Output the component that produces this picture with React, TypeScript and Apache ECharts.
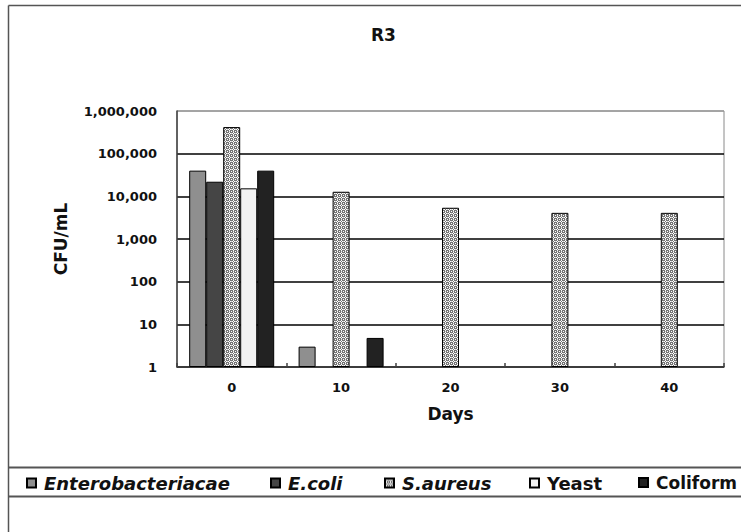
import React, { useEffect, useRef } from "react";
import * as echarts from "echarts";

const days = ["0", "10", "20", "30", "40"];
const seriesNames = ["Enterobacteriacae", "E.coli", "S.aureus", "Yeast", "Coliform"];
const enterobacteriaceae = [40000, 3, null, null, null];
const eColi = [22000, null, null, null, null];
const sAureus = [420000, 12800, 5400, 4100, 4100];
const yeast = [15400, null, null, null, null];
const coliform = [40000, 4.8, null, null, null];

function makePattern(): HTMLCanvasElement {
  const c = document.createElement("canvas");
  c.width = 4;
  c.height = 4;
  const ctx = c.getContext("2d")!;
  ctx.fillStyle = "#747474";
  ctx.fillRect(0, 0, 4, 4);
  ctx.fillStyle = "#ffffff";
  [[1, 0], [0, 1], [2, 1], [1, 2], [3, 3]].forEach(([x, y]) => ctx.fillRect(x, y, 1, 1));
  ctx.fillStyle = "#cfcfcf";
  [[3, 1], [1, 3]].forEach(([x, y]) => ctx.fillRect(x, y, 1, 1));
  return c;
}

export default function App() {
  const ref = useRef<HTMLDivElement>(null);
  useEffect(() => {
    if (!ref.current) return;
    const chart = echarts.init(ref.current, null, { renderer: "svg" });
    const pattern = makePattern();
    const colors: any[] = ["#8f8f8f", "#454545", { image: pattern, repeat: "repeat" }, "#f2f2f2", "#222222"];
    const values = [enterobacteriaceae, eColi, sAureus, yeast, coliform];
    const legendLefts = [21, 265, 379, 524, 633];
    const legendSizes = [18, 18, 18, 18, 17];
    const italic = [true, true, true, false, false];
    const font = "DejaVu Sans";
    chart.setOption({
      animation: false,
      backgroundColor: "#ffffff",
      title: {
        text: "R3",
        left: 366,
        top: 21,
        textStyle: { fontFamily: font, fontSize: 17, fontWeight: "bold", color: "#111" },
      },
      grid: {
        left: 177,
        right: 17,
        top: 111,
        bottom: 165,
        show: true,
        borderColor: "#8a8a8a",
        borderWidth: 1,
        backgroundColor: "#ffffff",
      },
      legend: seriesNames.map((n, i) => ({
        left: legendLefts[i],
        top: 469,
        itemWidth: 9,
        itemHeight: 9,
        selectedMode: false,
        icon: "rect",
        data: [n],
        formatter: (name: string) => `{t|${name}}`,
        textStyle: {
          fontFamily: font,
          fontSize: legendSizes[i],
          fontWeight: "bold",
          color: "#111",
          rich: {
            t: {
              fontFamily: font,
              fontSize: legendSizes[i],
              fontWeight: "bold",
              fontStyle: italic[i] ? "italic" : "normal",
              color: "#111",
              padding: [0, 0, 0, 3],
            },
          },
        },
      })),
      xAxis: {
        type: "category",
        data: days,
        name: "Days",
        nameLocation: "middle",
        nameGap: 38,
        nameTextStyle: { fontFamily: font, fontSize: 17, fontWeight: "bold", color: "#111" },
        axisLine: { show: true, lineStyle: { color: "#404040", width: 1.5 } },
        axisTick: { show: true, inside: true, length: 4, lineStyle: { color: "#404040", width: 1.5 } },
        axisLabel: { fontFamily: font, fontSize: 13, fontWeight: "bold", color: "#111", margin: 14 },
      },
      yAxis: {
        type: "log",
        logBase: 10,
        min: 1,
        max: 1000000,
        name: "CFU/mL",
        nameLocation: "middle",
        nameGap: 108,
        nameTextStyle: { fontFamily: font, fontSize: 17, fontWeight: "bold", color: "#111" },
        axisLine: { show: true, lineStyle: { color: "#404040", width: 1.5 } },
        axisTick: { show: false },
        axisLabel: {
          fontFamily: font,
          fontSize: 13,
          fontWeight: "bold",
          color: "#111",
          margin: 20,
          formatter: (v: number) => Math.round(v).toLocaleString("en-US"),
        },
        splitLine: {
          show: true,
          lineStyle: {
            color: ["#000", "#000", "#000", "#000", "#000", "#000", "#9a9a9a"],
            width: 1.5,
          },
        },
      },
      series: seriesNames.map((n, i) => ({
        name: n,
        type: "bar",
        data: values[i],
        barWidth: 17,
        barGap: "0%",
        itemStyle: { color: colors[i], borderColor: "#000", borderWidth: 1 },
      })),
      graphic: [
        {
          type: "line",
          shape: { x1: 8.5, y1: 5.5, x2: 8.5, y2: 532 },
          style: { stroke: "#555", lineWidth: 1.5 },
          silent: true,
        },
        {
          type: "line",
          shape: { x1: 8.5, y1: 5.5, x2: 741, y2: 5.5 },
          style: { stroke: "#555", lineWidth: 1.5 },
          silent: true,
        },
        {
          type: "line",
          shape: { x1: 8.5, y1: 467.5, x2: 741, y2: 467.5 },
          style: { stroke: "#555", lineWidth: 2 },
          silent: true,
        },
        {
          type: "line",
          shape: { x1: 8.5, y1: 496.5, x2: 741, y2: 496.5 },
          style: { stroke: "#555", lineWidth: 2 },
          silent: true,
        },
      ],
    });
    return () => chart.dispose();
  }, []);
  return <div ref={ref} style={{ position: "fixed", left: 0, top: 0, width: 741, height: 532 }} />;
}
